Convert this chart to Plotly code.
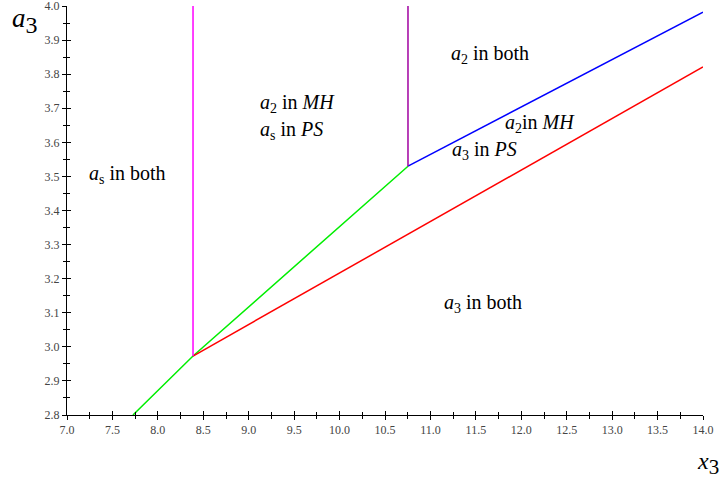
import plotly.graph_objects as go

# Boundary curves (x3, a3)
green_x = [7.726, 8.387, 10.753]
green_y = [2.8, 2.973, 3.530]
red_x = [8.387, 14.0]
red_y = [2.973, 3.821]
blue_x = [10.753, 14.0]
blue_y = [3.530, 3.982]
magenta_x = [8.387, 8.387]
magenta_y = [2.973, 4.0]
purple_x = [10.753, 10.753]
purple_y = [3.530, 4.0]

# Region labels
label_text = [
    "<i>a</i><sub>s</sub> in both",
    "<i>a</i><sub>2</sub> in <i>MH</i>",
    "<i>a</i><sub>s</sub> in <i>PS</i>",
    "<i>a</i><sub>2</sub> in both",
    "<i>a</i><sub>2</sub>in <i>MH</i>",
    "<i>a</i><sub>3</sub> in <i>PS</i>",
    "<i>a</i><sub>3</sub> in both",
]
label_x = [7.671, 9.102, 9.102, 11.655, 12.206, 11.600, 11.578]
label_y = [3.507, 3.715, 3.636, 3.859, 3.654, 3.577, 3.126]
label_anchor = ["center", "left", "left", "center", "center", "center", "center"]

x_range = [7.0, 14.0]
y_range = [2.8, 4.0]
eps = 1e-6

fig = go.Figure()
for xs, ys, col in [
    (green_x, green_y, "#00ee00"),
    (red_x, red_y, "#ff0000"),
    (blue_x, blue_y, "#0000ff"),
    (magenta_x, magenta_y, "#ff00ff"),
    (purple_x, purple_y, "#a000a0"),
]:
    fig.add_trace(go.Scatter(x=xs, y=ys, mode="lines",
                             line=dict(color=col, width=1.5),
                             showlegend=False, hoverinfo="skip"))

# invisible trace for overlay axes
fig.add_trace(go.Scatter(x=x_range, y=y_range, xaxis="x2", yaxis="y2",
                         mode="markers", marker=dict(opacity=0),
                         showlegend=False, hoverinfo="skip"))

for t, x, y, a in zip(label_text, label_x, label_y, label_anchor):
    fig.add_annotation(x=x, y=y, text=t, showarrow=False, xanchor=a,
                       font=dict(family="Liberation Serif", size=20, color="black"))

fig.add_annotation(xref="paper", yref="paper", x=-0.0896, y=1.012,
                   xanchor="left", yanchor="top",
                   text="<i>a</i><sub><span style='font-size:24px'>3</span></sub>",
                   showarrow=False,
                   font=dict(family="Liberation Serif", size=27, color="black"))
fig.add_annotation(xref="paper", yref="paper", x=0.987, y=-0.076,
                   xanchor="left", yanchor="top",
                   text="<i>x</i><sub><span style='font-size:21px'>3</span></sub>",
                   showarrow=False,
                   font=dict(family="Liberation Serif", size=24, color="black"))

tickfont = dict(family="Liberation Serif", size=12, color="#444444")
common_x = dict(range=[x_range[0] - eps, x_range[1] + eps], showgrid=False,
                zeroline=False, showline=True, linecolor="black", linewidth=1,
                tick0=7.0, dtick=0.5, ticklen=4, tickcolor="black",
                automargin=False,
                minor=dict(dtick=0.25, ticklen=3, tickcolor="black"))
common_y = dict(range=[y_range[0] - eps, y_range[1] + eps], showgrid=False,
                zeroline=False, showline=True, linecolor="black", linewidth=1,
                tick0=2.8, dtick=0.1, ticklen=4, tickcolor="black",
                automargin=False,
                minor=dict(dtick=0.05, ticklen=3, tickcolor="black"))

fig.update_layout(
    width=722, height=479,
    margin=dict(l=67, r=19, t=6, b=64),
    plot_bgcolor="white", paper_bgcolor="white",
    xaxis=dict(**common_x, ticks="outside", tickformat=".1f", tickfont=tickfont,
               ticklabeloverflow="allow"),
    yaxis=dict(**common_y, ticks="outside", tickformat=".1f", tickfont=tickfont,
               ticklabeloverflow="allow"),
    xaxis2=dict(**common_x, ticks="inside", overlaying="x", anchor="y",
                showticklabels=False),
    yaxis2=dict(**common_y, ticks="inside", overlaying="y", anchor="x",
                showticklabels=False),
)
fig.layout.xaxis2.minor.ticks = "inside"
fig.layout.yaxis2.minor.ticks = "inside"
fig.layout.xaxis.minor.ticks = "outside"
fig.layout.yaxis.minor.ticks = "outside"

fig.write_html("out.html", config={"displayModeBar": False},
               post_script="document.body.style.margin='0';document.body.style.padding='0';")
